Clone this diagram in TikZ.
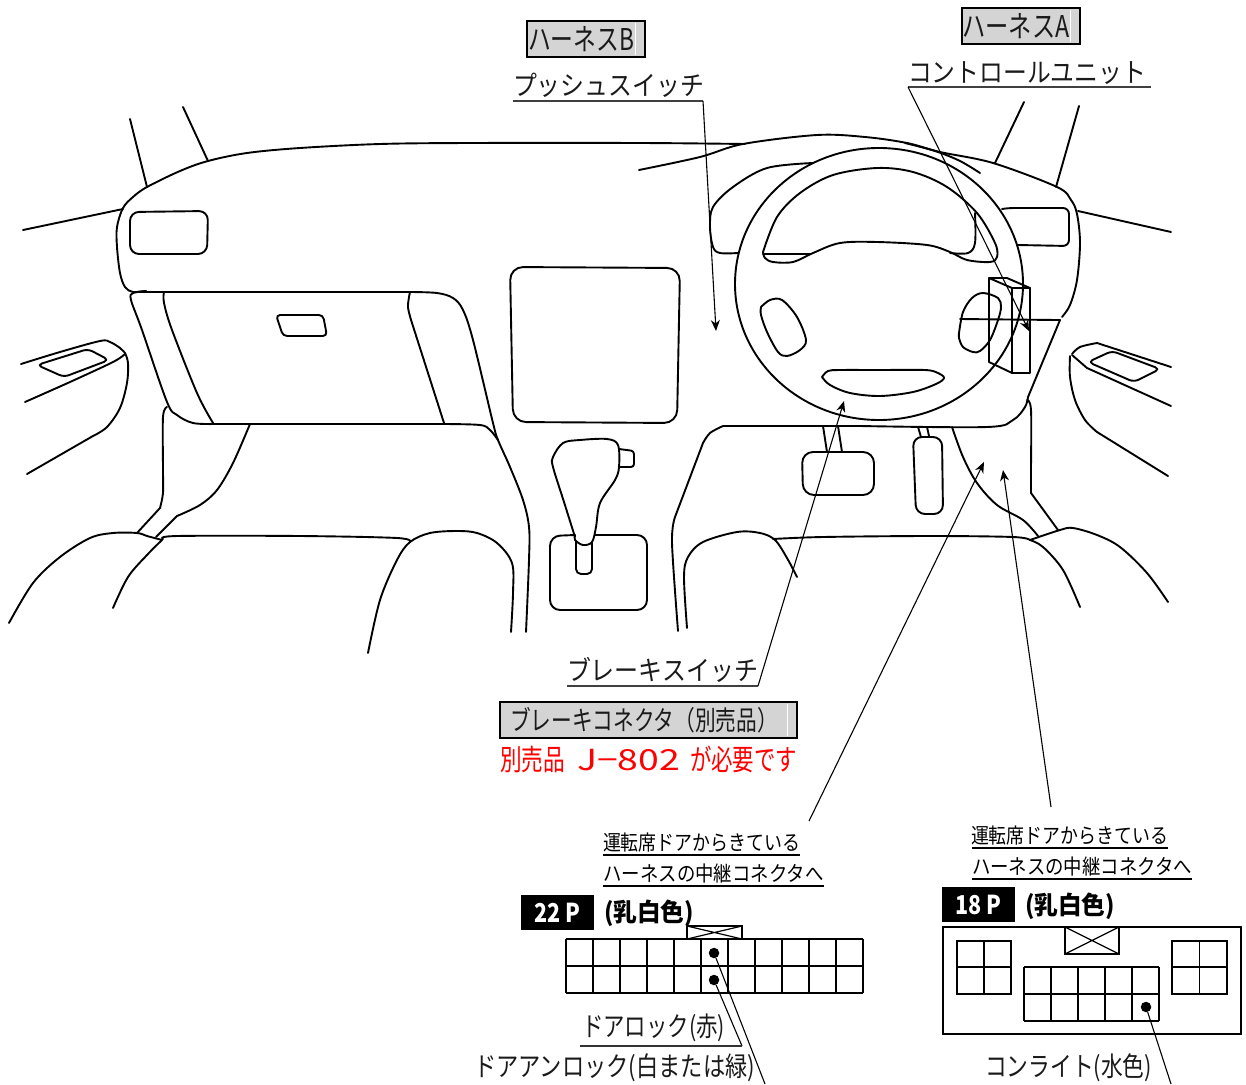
\documentclass[tikz,border=0pt]{standalone}
\usepackage{fontspec}
\usepackage{graphicx}
\setmainfont{Noto Sans CJK JP}
\usetikzlibrary{arrows.meta}
\definecolor{boxgray}{HTML}{D4D4D4}
\definecolor{txt}{HTML}{1A1A1A}
\newcommand\tw[2]{\resizebox{#1pt}{\height}{#2}}
\newcommand\sm[1]{plot[smooth,tension=0.55] coordinates {#1}}
\tikzset{
  ln/.style={line width=1.9pt,line cap=round,line join=round},
  ul/.style={line width=1.8pt,draw=black!75},
  lead/.style={line width=1.1pt,-{Stealth[inset=3.5pt,length=11pt,width=9pt]}},
  plain lead/.style={line width=1.1pt},
  lab/.style={inner sep=0pt,text=txt,font=\fontsize{27}{27}\selectfont},
  taglab/.style={inner sep=0pt,text=txt,font=\fontsize{30}{30}\selectfont},
  smalllab/.style={inner sep=0pt,text=black,font=\fontsize{21}{21}\selectfont},
  tag/.style={draw=black,line width=2.2pt,fill=boxgray},
  blk/.style={fill=black,draw=none},
  gridl/.style={line width=1.8pt},
  dot/.style={circle,fill=black,inner sep=0pt,minimum size=10.5pt}
}
\begin{document}
\begin{tikzpicture}[x=1pt,y=-1pt]
\useasboundingbox (0,0) rectangle (1246,1084);
% ---------- pillars and dash
\begin{scope}[ln]
\draw (23,230) -- (123,209);
\draw (130,119) -- (147,187);
\draw (183,107) -- (208,161);
\draw (1024,102) -- (995,163);
\draw (1079,106) -- (1056,187);
\draw (1078,211) -- (1171,232);
\draw \sm{(146,291) (133,292) (125,287) (120,273) (117,247) (117,227) (123,208) (133,197) (147,187) (180,171) (208,161) (247,153) (300,148) (380,144) (470,143) (640,143) (745,144)};
\draw \sm{(639,170) (700,157) (743,144) (817,135) (865,137) (907,143) (940,152) (993,163) (1057,187) (1071,200) (1077,214) (1080,243) (1077,280) (1070,305) (1062,317)};
\draw \sm{(905,143) (935,151) (960,161) (980,173)};
\draw (133,292) -- (410,292);
\draw \sm{(410,292) (437,293) (453,298) (463,310) (473,340) (493,423) (498,440) (510,467) (523,500) (529,527) (529,560) (526,632)};
\draw \sm{(443,424) (480,425) (490,430) (498,440)};
\draw \sm{(410,292) (408,307) (412,323)} -- (444,423);
% glovebox
\draw \sm{(146,291) (133,293) (131,300) (142,330) (167,402) (177,415) (193,423) (215,424)} -- (444,424);
\draw \sm{(164,292) (164,303) (172,330) (197,393) (213,423)};
% left vent
\draw[rounded corners=9pt] (130,212) -- (208,211) -- (207,254) -- (130,254) -- cycle;
% handle
\draw[rounded corners=4pt] (276,315) -- (323,315) -- (327,336) -- (283,336) -- cycle;
% centre panel
\draw[rounded corners=13pt] (510,267) -- (680,268) -- (677,423) -- (513,422) -- cycle;
% gear
\draw \sm{(575,537) (564,502) (553,467) (553,457) (563,443) (580,440) (607,439) (618,445) (619,467) (615,480) (600,503) (596,527) (592,542) (583,545) (575,540) (575,535)};
\draw[rounded corners=3pt] (619,449) -- (634,451) -- (634,467) -- (619,467);
\draw[rounded corners=5pt] (576,542) -- (576,574) -- (592,574) -- (592,543);
\draw[rounded corners=10pt] (575,535) -- (550,536) -- (550,610) -- (647,610) -- (647,535) -- (595,535);
% passenger seat and side supports
\draw \sm{(368,653) (380,600) (397,560) (410,542) (430,533) (457,531) (477,533) (497,543) (512,563) (513,593) (511,632)};
\draw \sm{(410,542) (397,538) (300,536) (177,536) (163,539)};
\draw \sm{(113,608) (128,577) (147,555) (162,540)};
\draw \sm{(9,623) (33,583) (60,557) (90,538) (113,533) (137,533) (147,536) (162,540)};
% left door
\draw \sm{(21,364) (60,352) (100,341) (110,342) (120,348) (125,353)};
\draw \sm{(25,402) (70,382) (113,362) (125,354)};
\draw \sm{(125,353) (128,363) (127,383) (120,408) (107,427) (93,436)} -- (27,474);
\draw[rounded corners=5pt] (37,365) -- (88,349) -- (109,360) -- (64,377) -- cycle;
% left console
\draw \sm{(167,407) (163,417) (163,470) (163,493) (160,508)} -- (137,533);
\draw \sm{(250,424) (233,463) (217,490) (200,505) (177,516)} -- (156,537);
% right console outline
\draw \sm{(678,631) (672,543) (675,517)} -- (703,443);
\draw \sm{(703,443) (710,433) (723,426)} -- (860,426);
\draw \sm{(860,426) (987,427) (1013,420) (1025,407) (1028,397)} -- (1060,320);
\draw (960,319) -- (1057,320);
\draw (1060,320) -- (1057,320);
% driver seat
\draw \sm{(687,628) (684,577) (688,557) (703,542) (737,532) (760,533) (775,540) (787,558) (797,577)};
\draw \sm{(773,539) (823,537) (930,536) (1013,537) (1030,540)};
\draw \sm{(1030,540) (1043,547) (1063,570) (1080,607)};
\draw \sm{(1030,540) (1060,530) (1073,528) (1097,535) (1120,547) (1147,573) (1168,602)};
\draw \sm{(1027,400) (1031,410) (1031,470) (1031,493)} -- (1058,530);
\draw \sm{(952,427) (963,457) (977,483) (997,505) (1023,520) (1038,536)};
% right door
\draw \sm{(1072,354) (1080,347) (1097,343)} -- (1171,367);
\draw \sm{(1072,355) (1087,368)} -- (1171,406);
\draw \sm{(1070,356) (1070,377) (1075,400) (1085,420) (1097,432)} -- (1168,476);
\draw[rounded corners=5pt] (1088,362) -- (1112,351) -- (1160,369) -- (1134,382) -- cycle;
% hood
\draw \sm{(813,163) (767,168) (733,187) (713,207) (710,227) (713,247) (720,253) (738,253)};
% right vent
\draw[rounded corners=6pt] (1002,209) -- (1008,208) -- (1069,208) -- (1069,246) -- (1018,245);
% wheel
\draw (879,284) ellipse [x radius=144,y radius=136];
\draw \sm{(763,252) (777,217) (800,193) (833,175) (877,168) (913,172) (947,187) (977,213) (995,243) (997,257) (990,262) (967,260) (950,252) (927,245) (877,242) (840,243) (813,253) (793,262) (773,262) (765,258) (763,252)};
\draw (763,254) -- (810,254);
\draw \sm{(950,253) (968,253) (975,243) (975,213)};
\draw \sm{(761,307) (770,300) (782,300) (797,317) (806,340) (800,350) (787,356) (778,352) (767,332) (761,315) (761,307)};
\draw \sm{(959,333) (963,312) (972,298) (983,293) (998,298) (1001,307) (998,320) (990,340) (980,351) (973,352) (963,347) (959,338) (959,333)};
\draw \sm{(822,377) (828,371) (840,370) (880,370) (925,370) (938,373) (944,378) (936,384) (913,392) (880,396) (850,393) (830,385) (822,377)};
% control unit box
\draw (989,278) -- (1007,278) -- (1030,288) -- (1030,373) -- (1012,373) -- (989,362) -- cycle;
\draw (989,278) -- (1012,288) -- (1030,288);
\draw (1012,288) -- (1012,373);
% pedals
\draw[rounded corners=11pt] (802,452) -- (874,452) -- (874,495) -- (803,495) -- cycle;
\draw (823,426) -- (827,452);
\draw (838,426) -- (842,452);
\draw[rounded corners=9pt] (913,437) -- (942,437) -- (943,514) -- (916,514) -- cycle;
\draw (918,427) -- (921,437);
\draw (927,427) -- (929,436);
\end{scope}
% ---------- anchors
\coordinate (pushU) at (703,101);
\coordinate (pushS) at (513,101);
\coordinate (pushTip) at (716,331);
\coordinate (ctrlU) at (1151,87);
\coordinate (ctrlS) at (908,87);
\coordinate (ctrlTip) at (1029,331);
\coordinate (brkU) at (567,686);
\coordinate (brkS) at (758,686);
\coordinate (brkTip) at (844,401);
\coordinate (d22From) at (809,821);
\coordinate (d22Tip) at (984,462);
\coordinate (d18From) at (1051,807);
\coordinate (d18Tip) at (1003,470);
% ---------- tags
\node[tag,minimum width=118pt,minimum height=36pt,inner sep=0pt] (tagB) at (586,39) {};
\draw[white,line width=1pt] (635,23) -- (635,55);
\node[taglab] (tagBt) at (581,39) {\tw{106}{ハーネスB}};
\node[tag,minimum width=118pt,minimum height=36pt,inner sep=0pt] (tagA) at (1021,26) {};
\draw[white,line width=1pt] (1070,10) -- (1070,42);
\node[taglab] (tagAt) at (1016,26) {\tw{107}{ハーネスA}};
\node[lab] (pushL) at (608.5,85) {\tw{191}{プッシュスイッチ}};
\node[lab] (ctrlL) at (1027,73) {\tw{238}{コントロールユニット}};
\draw[ul] (pushS) -- (pushU);
\draw[ul] (ctrlS) -- (ctrlU);
\draw[lead] (pushU) -- (pushTip);
\draw[lead] (ctrlS) -- (ctrlTip);
\node[lab] (brkL) at (662.5,670) {\tw{191}{ブレーキスイッチ}};
\draw[ul] (brkU) -- (brkS);
\draw[lead] (brkS) -- (brkTip);
\node[tag,minimum width=297pt,minimum height=36pt,inner sep=0pt] (tagC) at (648.5,720) {};
\draw[white,line width=1pt] (787,704) -- (787,736);
\node[lab] (tagCt) at (644,720) {\tw{268}{ブレーキコネクタ（別売品）}};
\node[lab,text=red,font=\fontsize{29}{29}\selectfont] (redL) at (648.5,759) {\tw{65}{別売品}\hspace{12pt}\tw{103}{J−802}\hspace{10pt}\tw{107}{が必要です}};
% ---------- 22P
\draw[lead] (d22From) -- (d22Tip);
\node[smalllab] (a1) at (701.5,843) {\tw{197}{運転席ドアからきている}};
\node[smalllab] (a2) at (713.5,874) {\tw{220}{ハーネスの中継コネクタへ}};
\draw[ul,draw=black] (603,855) -- (800,855);
\draw[ul,draw=black] (603,886) -- (824,886);
\node[blk,minimum width=73pt,minimum height=35pt,inner sep=0pt,text=white,font=\bfseries\fontsize{26}{26}\selectfont] (p22) at (557.5,912.5) {\tw{46}{22 P}};
\node[lab,text=black,font=\bfseries\fontsize{25}{25}\selectfont] (c22) at (649,913) {\tw{90}{(乳白色)}};
\foreach \i in {0,...,11} \draw[gridl] ({566+27*\i},939) -- ({566+27*\i},993);
\foreach \yy in {939,966,993} \draw[gridl] (566,\yy) -- (863,\yy);
\draw[gridl] (687,926) rectangle (742,939);
\draw[line width=1.2pt] (687,926) -- (742,939) (687,939) -- (742,926);
\node[dot] (d1) at (714,953) {};
\node[dot] (d2) at (714,980) {};
\coordinate (lockE) at (742,1046);
\coordinate (lockS) at (580,1046);
\coordinate (unlockE) at (765,1084);
\draw[plain lead] (d1) -- (unlockE);
\draw[plain lead] (d2) -- (lockE);
\draw[ul,draw=black!80] (lockS) -- (lockE);
\node[lab] (lock) at (653.5,1028) {\tw{143}{ドアロック(赤)}};
\node[lab] (unlock) at (614.5,1068) {\tw{281}{ドアアンロック(白または緑)}};
% ---------- 18P
\draw[lead] (d18From) -- (d18Tip);
\node[smalllab] (b1) at (1069.5,836) {\tw{197}{運転席ドアからきている}};
\node[smalllab] (b2) at (1082,867) {\tw{220}{ハーネスの中継コネクタへ}};
\draw[ul,draw=black] (972,848) -- (1168,848);
\draw[ul,draw=black] (972,879) -- (1192,879);
\node[blk,minimum width=73pt,minimum height=35pt,inner sep=0pt,text=white,font=\bfseries\fontsize{26}{26}\selectfont] (p18) at (978.5,904.5) {\tw{46}{18 P}};
\node[lab,text=black,font=\bfseries\fontsize{25}{25}\selectfont] (c18) at (1070,906) {\tw{90}{(乳白色)}};
\draw[gridl] (943,927) rectangle (1241,1034);
\draw[gridl] (1065,927) rectangle (1119,954);
\draw[line width=1.2pt] (1065,927) -- (1119,954) (1065,954) -- (1119,927);
\draw[gridl] (957,941) rectangle (1011,994) (984,941) -- (984,994) (957,967) -- (1011,967);
\draw[gridl] (1172,941) rectangle (1227,994) (1199.5,941) -- (1199.5,994) (1172,967) -- (1227,967);
\foreach \i in {0,...,5} \draw[gridl] ({1024+27*\i},967) -- ({1024+27*\i},1021);
\foreach \yy in {967,994,1021} \draw[gridl] (1024,\yy) -- (1159,\yy);
\node[dot] (d3) at (1146,1007) {};
\coordinate (lightE) at (1171,1084);
\draw[plain lead] (d3) -- (lightE);
\node[lab] (light) at (1068.5,1068) {\tw{167}{コンライト(水色)}};
\end{tikzpicture}
\end{document}
